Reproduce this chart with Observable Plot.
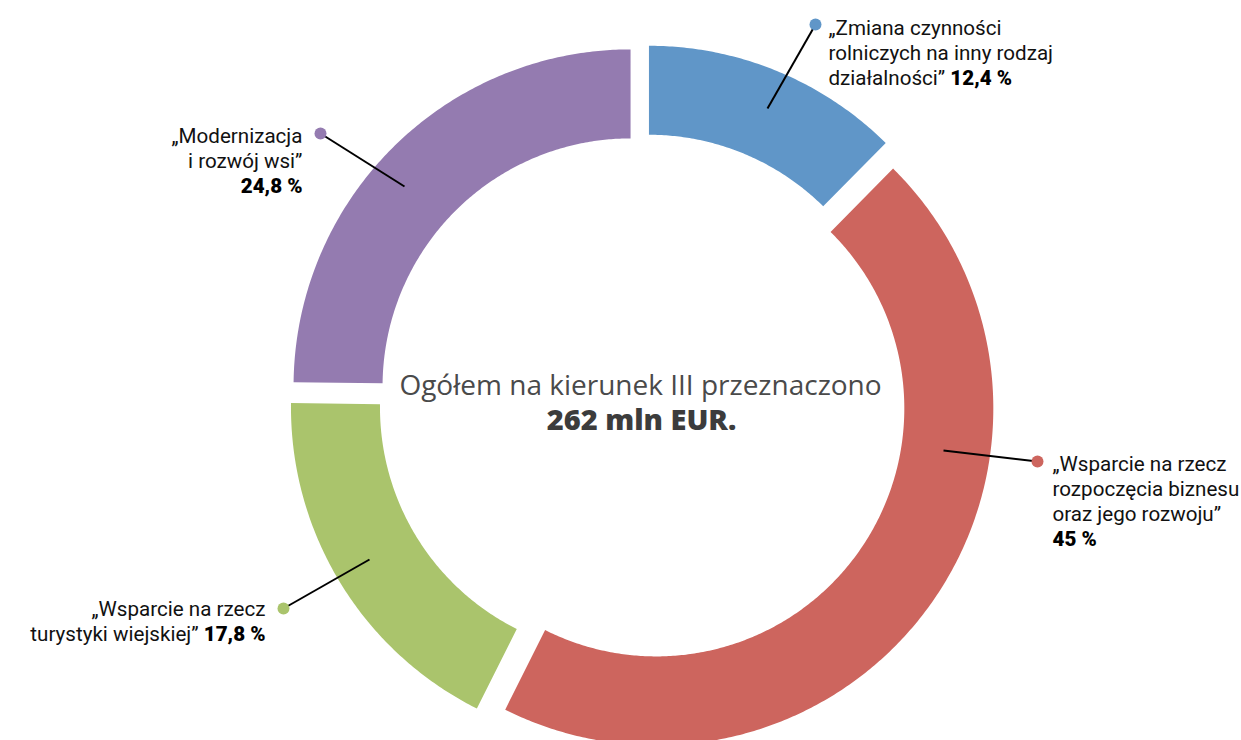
<!DOCTYPE html>
<html><head><meta charset="utf-8">
<script src="https://cdn.jsdelivr.net/npm/d3@7"></script>
<script src="https://cdn.jsdelivr.net/npm/@observablehq/plot@0.6"></script>
<style>html,body{margin:0;padding:0;background:#fff;overflow:hidden}</style>
</head><body><div id="chart"></div>
<script>
// ---- data ----
const categories = [
  "Zmiana czynności rolniczych na inny rodzaj działalności",
  "Wsparcie na rzecz rozpoczęcia biznesu oraz jego rozwoju",
  "Wsparcie na rzecz turystyki wiejskiej",
  "Modernizacja i rozwój wsi"
];
const shares = [12.4, 45, 17.8, 24.8];
const valueLabels = ["12,4 %", "45 %", "17,8 %", "24,8 %"];
const labelLines = [
  ["„Zmiana czynności", "rolniczych na inny rodzaj", "działalności”"],
  ["„Wsparcie na rzecz", "rozpoczęcia biznesu", "oraz jego rozwoju”", ""],
  ["„Wsparcie na rzecz", "turystyki wiejskiej”"],
  ["„Modernizacja", "i rozwój wsi”", ""]
];
const colors = ["#6096c8", "#cd655e", "#aac46c", "#947bb0"];
const centerTitle = "Ogółem na kierunek III przeznaczono";
const centerTotal = "262 mln EUR.";

// ---- layout (pixels relative to ring centre) ----
const outerR = 337, innerR = 248, explode = 17;
const labelLayout = [
  {anchor: "start", x: 186, base: -364, dot: [173, -374], tip: [125, -290]},
  {anchor: "start", x: 410, base: 72, dot: [395, 63], tip: [301, 52]},
  {anchor: "end", x: -377, base: 217, dot: [-359, 210], tip: [-273, 161]},
  {anchor: "end", x: -340, base: -256, dot: [-322, -265], tip: [-238, -212]}
];
const lineStep = 25.3;
const labelFont = "Roboto", labelSize = 20.6;
const centerFont = "'Open Sans'";

// ---- geometry ----
const total = d3.sum(shares);
let cum = 0;
const slices = shares.map((v, i) => {
  const a0 = cum / total * 2 * Math.PI; cum += v;
  const a1 = cum / total * 2 * Math.PI;
  return {name: categories[i], a0, a1};
});
const ring = [];
for (const s of slices) {
  const m = (s.a0 + s.a1) / 2, ox = explode * Math.sin(m), oy = -explode * Math.cos(m);
  const n = Math.max(8, Math.ceil((s.a1 - s.a0) * 180 / Math.PI * 2));
  for (let k = 0; k <= n; k++) {
    const a = s.a0 + (s.a1 - s.a0) * k / n;
    ring.push({name: s.name, x: ox + outerR * Math.sin(a), y: oy - outerR * Math.cos(a)});
  }
  for (let k = n; k >= 0; k--) {
    const a = s.a0 + (s.a1 - s.a0) * k / n;
    ring.push({name: s.name, x: ox + innerR * Math.sin(a), y: oy - innerR * Math.cos(a)});
  }
}

// ---- text measurement for mixed-weight lines ----
const ctx = document.createElement("canvas").getContext("2d");
function w(str, weight) { ctx.font = `${weight} ${labelSize}px ${labelFont}`; return ctx.measureText(str).width; }

const leaders = [], regular = [], bold = [];
labelLayout.forEach((L, i) => {
  leaders.push({name: categories[i], x1: L.tip[0], y1: L.tip[1], x2: L.dot[0], y2: L.dot[1]});
  const lines = labelLines[i];
  lines.forEach((t, j) => {
    const y = L.base + j * lineStep;
    const last = j === lines.length - 1;
    if (!last) { regular.push({t, x: L.x, y, anchor: L.anchor}); return; }
    const v = valueLabels[i];
    if (t === "") { bold.push({t: v, x: L.x, y, anchor: L.anchor}); return; }
    const sp = w(" ", 400);
    if (L.anchor === "start") {
      regular.push({t, x: L.x, y, anchor: "start"});
      bold.push({t: v, x: L.x + w(t, 400) + sp, y, anchor: "start"});
    } else {
      bold.push({t: v, x: L.x, y, anchor: "end"});
      regular.push({t, x: L.x - w(v, 900) - sp, y, anchor: "end"});
    }
  });
});
const byAnchor = (arr, a) => arr.filter(d => d.anchor === a);

const chart = Plot.plot({
  width: 1241, height: 740, margin: 0,
  x: {domain: [-642, 599], axis: null},
  y: {domain: [-398, 342], range: [0, 740], axis: null},
  color: {domain: categories, range: colors},
  style: {fontFamily: labelFont, background: "#fff"},
  marks: [
    Plot.line(ring, {x: "x", y: "y", z: "name", fill: "name", stroke: "none", curve: "linear-closed"}),
    Plot.link(leaders, {x1: "x1", y1: "y1", x2: "x2", y2: "y2", stroke: "#000", strokeWidth: 2}),
    Plot.dot(leaders, {x: "x2", y: "y2", r: 6, fill: "name", stroke: "none"}),
    ...["start", "end"].flatMap(a => [
      Plot.text(byAnchor(regular, a), {x: "x", y: "y", text: "t", textAnchor: a, lineAnchor: "bottom", fontSize: labelSize, fill: "#111"}),
      Plot.text(byAnchor(bold, a), {x: "x", y: "y", text: "t", textAnchor: a, lineAnchor: "bottom", fontSize: labelSize, fontWeight: 900, fill: "#000"})
    ]),
    Plot.text([centerTitle], {x: () => -2, y: () => -4, text: d => d, lineAnchor: "bottom", fontSize: 28, fontWeight: 400, fontFamily: centerFont, fill: "#4a4a4a"}),
    Plot.text([centerTotal], {x: () => -1, y: () => 31, text: d => d, lineAnchor: "bottom", fontSize: 29, fontWeight: 800, fontFamily: centerFont, fill: "#3c3c3c"})
  ]
});
document.getElementById("chart").appendChild(chart);
</script>
</body></html>
